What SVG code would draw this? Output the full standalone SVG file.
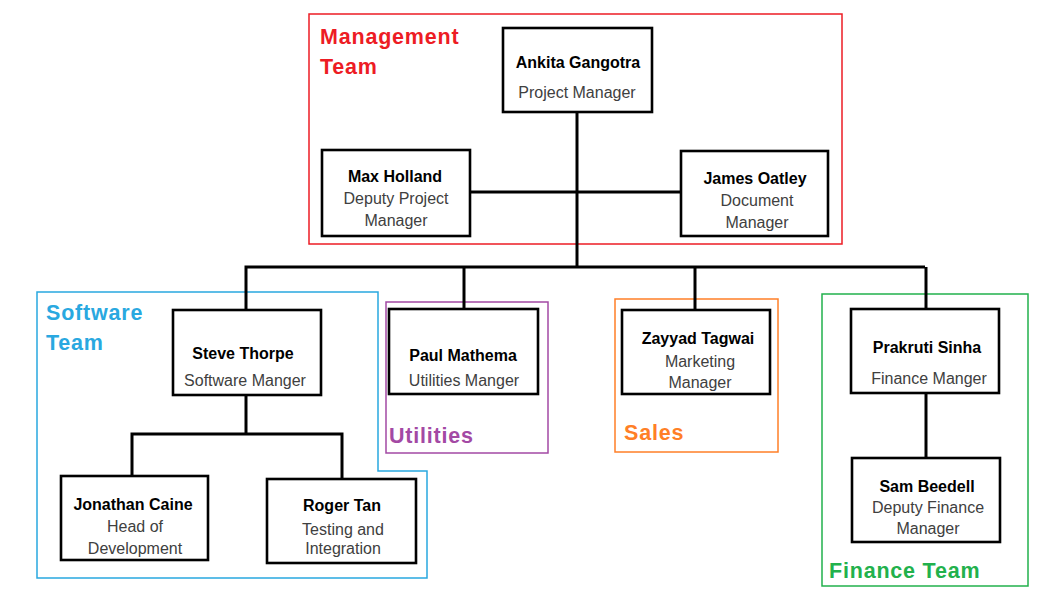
<svg xmlns="http://www.w3.org/2000/svg" width="1048" height="615" viewBox="0 0 1048 615">
<style>
.box{fill:#fff;stroke:#000;stroke-width:2.6}
.frame{fill:none;stroke-width:1.5}
.conn{fill:none;stroke:#000;stroke-width:3}
.name{font-family:"Liberation Sans",Arial,sans-serif;font-weight:bold;font-size:16px;fill:#000;text-anchor:middle}
.role{font-family:"Liberation Sans",Arial,sans-serif;font-size:16px;fill:#404040;text-anchor:middle}
.team{font-family:"Liberation Sans",Arial,sans-serif;font-weight:bold;font-size:21.5px;letter-spacing:0.8px}
</style>
<rect width="1048" height="615" fill="#fff"/>
<g id="frames">
<rect class="frame" x="309" y="14" width="533" height="230" stroke="#ED1C24"/>
<polygon class="frame" points="37,292 378,292 378,471 427,471 427,578 37,578" stroke="#29A8E0"/>
<rect class="frame" x="386" y="302" width="162" height="151" stroke="#A349A4"/>
<rect class="frame" x="615" y="299" width="163" height="153" stroke="#FF7F27"/>
<rect class="frame" x="822" y="294" width="206" height="292" stroke="#22B14C"/>
<text class="team" fill="#ED1C24" x="320" y="44">Management</text>
<text class="team" fill="#ED1C24" x="320" y="74">Team</text>
<text class="team" fill="#29A8E0" x="46" y="320">Software</text>
<text class="team" fill="#29A8E0" x="46" y="350">Team</text>
<text class="team" fill="#A349A4" x="389" y="443">Utilities</text>
<text class="team" fill="#FF7F27" x="624" y="440">Sales</text>
<text class="team" fill="#22B14C" x="829" y="578">Finance Team</text>
</g>
<g id="connectors">
<path class="conn" d="M577,112 V267"/>
<path class="conn" d="M470,192 H681"/>
<path class="conn" d="M246,310 V267 H925"/>
<path class="conn" d="M464,267 V309"/>
<path class="conn" d="M695,267 V310"/>
<path class="conn" d="M926,267 V309"/>
<path class="conn" d="M246,395 V434"/>
<path class="conn" d="M132,476 V434 H342 V479"/>
<path class="conn" d="M926,393 V458"/>
</g>
<g id="ankita">
<rect class="box" x="503" y="28" width="149" height="84"/>
<text class="name" x="578" y="68">Ankita Gangotra</text>
<text class="role" x="577" y="98">Project Manager</text>
</g>
<g id="max">
<rect class="box" x="322" y="150" width="148" height="86"/>
<text class="name" x="395" y="182">Max Holland</text>
<text class="role" x="396" y="204">Deputy Project</text>
<text class="role" x="396" y="226">Manager</text>
</g>
<g id="james">
<rect class="box" x="681" y="151" width="147" height="85"/>
<text class="name" x="755" y="184">James Oatley</text>
<text class="role" x="757" y="206">Document</text>
<text class="role" x="757" y="228">Manager</text>
</g>
<g id="steve">
<rect class="box" x="173" y="310" width="148" height="85"/>
<text class="name" x="243" y="359">Steve Thorpe</text>
<text class="role" x="245" y="386">Software Manger</text>
</g>
<g id="jonathan">
<rect class="box" x="61" y="476" width="147" height="84"/>
<text class="name" x="133" y="510">Jonathan Caine</text>
<text class="role" x="135" y="532">Head of</text>
<text class="role" x="135" y="554">Development</text>
</g>
<g id="roger">
<rect class="box" x="267" y="479" width="149" height="84"/>
<text class="name" x="342" y="511">Roger Tan</text>
<text class="role" x="343" y="535">Testing and</text>
<text class="role" x="343" y="554">Integration</text>
</g>
<g id="paul">
<rect class="box" x="389" y="309" width="149" height="85"/>
<text class="name" x="463" y="361">Paul Mathema</text>
<text class="role" x="464" y="386">Utilities Manger</text>
</g>
<g id="zayyad">
<rect class="box" x="622" y="310" width="148" height="84"/>
<text class="name" x="698" y="344">Zayyad Tagwai</text>
<text class="role" x="700" y="367">Marketing</text>
<text class="role" x="700" y="388">Manager</text>
</g>
<g id="prakruti">
<rect class="box" x="851" y="309" width="148" height="84"/>
<text class="name" x="927" y="353">Prakruti Sinha</text>
<text class="role" x="929" y="384">Finance Manger</text>
</g>
<g id="sam">
<rect class="box" x="852" y="458" width="148" height="84"/>
<text class="name" x="927" y="492">Sam Beedell</text>
<text class="role" x="928" y="513">Deputy Finance</text>
<text class="role" x="928" y="534">Manager</text>
</g>
</svg>
